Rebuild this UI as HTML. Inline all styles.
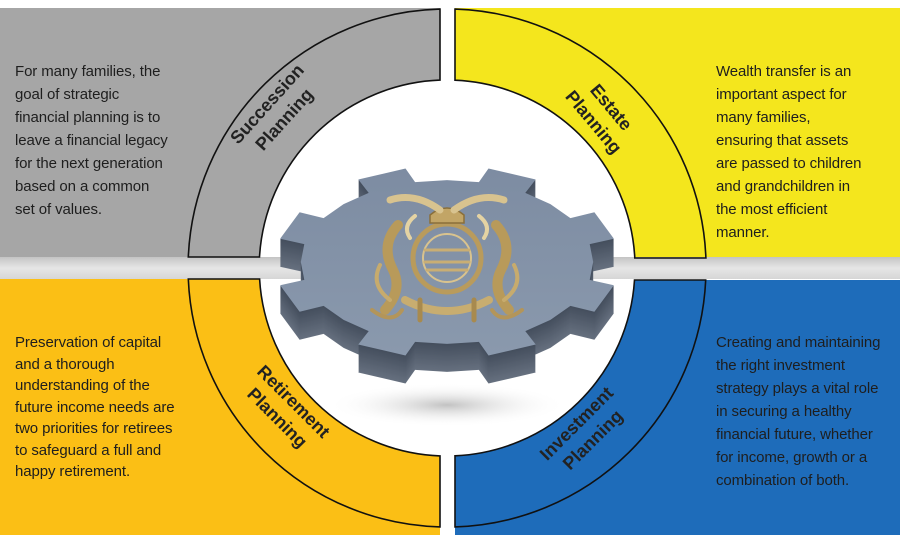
<!DOCTYPE html>
<html><head><meta charset="utf-8"><style>
html,body{margin:0;padding:0;background:#fff}
#c{position:relative;width:900px;height:540px;overflow:hidden;background:#fff;font-family:"Liberation Sans",sans-serif}
.t{position:absolute;color:#1e1e1e;font-size:15px;white-space:nowrap;letter-spacing:-0.1px}
.t div{height:23px;line-height:23px}
.o div{height:21.5px;line-height:21.5px}
.lab{position:absolute;font-weight:bold;font-size:18px;color:#222;text-align:center;line-height:23px;white-space:nowrap;transform-origin:center center;width:140px;height:46px;margin-left:-70px;margin-top:-23px}
</style></head><body><div id="c">
<svg width="900" height="540" style="position:absolute;left:0;top:0">
<defs>
<linearGradient id="band" x1="0" y1="0" x2="0" y2="1">
<stop offset="0" stop-color="#c4c4c4"/><stop offset="0.5" stop-color="#e6e6e6"/><stop offset="1" stop-color="#d6d6d6"/></linearGradient>
<linearGradient id="top" x1="0" y1="0" x2="0" y2="1">
<stop offset="0" stop-color="#7d8ca2"/><stop offset="1" stop-color="#8a99ad"/></linearGradient>
<radialGradient id="sh" cx="0.5" cy="0.5" r="0.5"><stop offset="0" stop-color="#999" stop-opacity="0.6"/><stop offset="1" stop-color="#fff" stop-opacity="0"/></radialGradient>
</defs>
<rect x="0" y="8" width="440" height="249" fill="#a6a6a6"/>
<rect x="455" y="8" width="445" height="250" fill="#f4e61d"/>
<rect x="0" y="279" width="440" height="256" fill="#fbbf15"/>
<rect x="455" y="280" width="445" height="255" fill="#1e6cba"/>
<circle cx="447" cy="268" r="188" fill="#fff"/>
<rect x="0" y="257" width="900" height="22" fill="url(#band)"/>
<g fill="none" stroke="#111" stroke-width="1.6">
<path d="M188.3,257 A259 259 0 0 1 440,9.1 L440,80.1 A188 188 0 0 0 259.5,257 Z"/>
<path d="M455,9.1 A259 259 0 0 1 705.9,258 L634.8,258 A188 188 0 0 0 455,80.2 Z"/>
<path d="M188.3,279 A259 259 0 0 0 440,526.9 L440,455.9 A188 188 0 0 1 259.6,279 Z"/>
<path d="M455,526.9 A259 259 0 0 0 705.7,280 L634.5,280 A188 188 0 0 1 455,455.8 Z"/>
</g>
<ellipse cx="447" cy="405" rx="120" ry="22" fill="url(#sh)"/>
<g id="gear"></g>
<g id="emb" fill="none" stroke-linecap="round">
<circle cx="447" cy="258" r="34" stroke="#b99b5c" stroke-width="5"/>
<circle cx="447" cy="258" r="24" stroke="#d9c38e" stroke-width="2"/>
<path d="M425,250 h44 M425,262 h44 M427,270 h40" stroke="#c9ae74" stroke-width="3"/>
<path d="M430,215 q17,-14 34,0 v8 h-34 z" fill="#c2a566" stroke="#8a6f3a" stroke-width="1.5"/>
<path d="M390,200 q25,-8 50,10 M504,200 q-25,-8 -50,10" stroke="#d8c38f" stroke-width="7"/>
<path d="M398,225 q-18,20 -5,45 q10,20 -8,40 M496,225 q18,20 5,45 q-10,20 8,40" stroke="#b89a5a" stroke-width="10"/>
<path d="M380,265 q-10,20 10,35 M514,265 q10,20 -10,35" stroke="#c7ab6d" stroke-width="4"/>
<path d="M405,300 q42,22 84,0" stroke="#c8ad70" stroke-width="8"/>
<path d="M372,310 q20,15 30,0 M522,310 q-20,15 -30,0" stroke="#b3955a" stroke-width="4"/>
<path d="M410,238 q-8,-12 5,-22 M484,238 q8,-12 -5,-22" stroke="#e4d3a3" stroke-width="4"/>
<path d="M420,300 v20 M474,300 v20" stroke="#a88a4e" stroke-width="5"/>
</g>
</svg>
<div class="t" style="left:15px;top:60px"><div>For many families, the</div><div>goal of strategic</div><div>financial planning is to</div><div>leave a financial legacy</div><div>for the next generation</div><div>based on a common</div><div>set of values.</div></div>
<div class="t" style="left:716px;top:60px"><div>Wealth transfer is an</div><div>important aspect for</div><div>many families,</div><div>ensuring that assets</div><div>are passed to children</div><div>and grandchildren in</div><div>the most efficient</div><div>manner.</div></div>
<div class="t o" style="left:15px;top:332px"><div>Preservation of capital</div><div>and a thorough</div><div>understanding of the</div><div>future income needs are</div><div>two priorities for retirees</div><div>to safeguard a full and</div><div>happy retirement.</div></div>
<div class="t" style="left:716px;top:331px"><div>Creating and maintaining</div><div>the right investment</div><div>strategy plays a vital role</div><div>in securing a healthy</div><div>financial future, whether</div><div>for income, growth or a</div><div>combination of both.</div></div>
<div class="lab" style="left:276px;top:112px;transform:rotate(-48deg)">Succession<br>Planning</div>
<div class="lab" style="left:602px;top:115px;transform:rotate(50deg)">Estate<br>Planning</div>
<div class="lab" style="left:285px;top:410px;transform:rotate(45deg)">Retirement<br>Planning</div>
<div class="lab" style="left:585px;top:432px;transform:rotate(-45deg)">Investment<br>Planning</div>
</div>
<script>
(function(){
var cx=447,cy=262,R=172,ry=0.56,pts=[];
var N=8,per=2*Math.PI/N;
for(var k=0;k<N;k++){
 var c=k*per+Math.PI/8;
 var list=[[c-per*0.5,0.85],[c-per*0.22,0.85],[c-per*0.19,1],[c+per*0.19,1],[c+per*0.22,0.85]];
 list.forEach(function(p){pts.push([cx+R*p[1]*Math.cos(p[0]),cy+R*ry*p[1]*Math.sin(p[0])]);});
}
function poly(dy,fill){return '<polygon points="'+pts.map(function(p){return p[0].toFixed(1)+','+(p[1]+dy).toFixed(1)}).join(' ')+'" fill="'+fill+'"/>';}
var s='';
for(var d=28;d>0;d-=1){var v=Math.round(68+d*1.2);s+=poly(d,'rgb('+v+','+(v+10)+','+(v+25)+')');}
s+=poly(0,'url(#top)');
document.getElementById('gear').innerHTML=s;
})();
</script>
</body></html>
